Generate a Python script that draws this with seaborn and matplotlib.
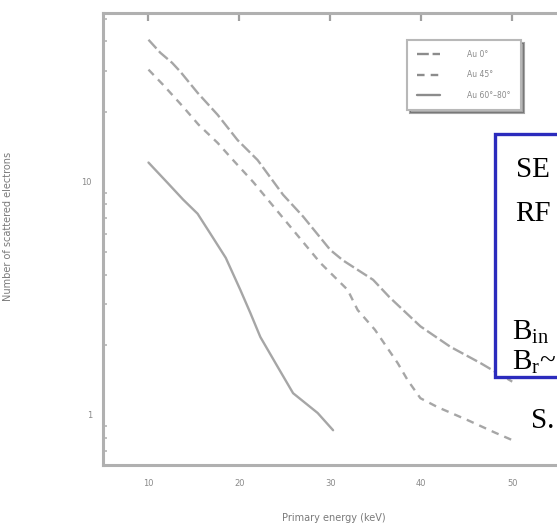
import matplotlib
matplotlib.use("Agg")
import matplotlib.pyplot as plt
import pandas as pd
import seaborn as sns
from matplotlib.patches import Rectangle

# Backscattered electron counts versus primary energy for three incidence cases
energy_a = [10.0, 11.3, 12.6, 13.5, 15.4, 17.6, 19.8, 22.0, 24.8, 27.0, 30.0,
            31.4, 34.7, 36.5, 39.9, 43.2, 46.5, 48.4, 50.0]
count_a = [40.7, 35.8, 32.4, 29.7, 24.1, 19.4, 15.1, 12.4, 8.8, 7.1, 5.1,
           4.6, 3.8, 3.2, 2.4, 1.96, 1.67, 1.51, 1.39]

energy_b = [10.0, 11.6, 13.8, 15.5, 17.6, 19.3, 21.5, 24.8, 28.9, 31.9, 33.0,
            34.9, 37.4, 38.5, 39.9, 41.8, 45.1, 48.1, 50.0]
count_b = [30.3, 26.1, 21.0, 17.6, 14.7, 12.4, 10.0, 7.0, 4.49, 3.44, 2.82,
           2.32, 1.67, 1.41, 1.18, 1.08, 0.95, 0.84, 0.78]

energy_c = [10.0, 12.1, 13.8, 15.4, 16.8, 18.5, 20.1, 21.2, 22.3, 24.2, 25.9,
            28.6, 30.3]
count_c = [12.1, 9.9, 8.4, 7.3, 6.0, 4.72, 3.44, 2.74, 2.16, 1.61, 1.24,
           1.02, 0.86]

series_names = ["Au 0°", "Au 45°", "Au 60°–80°"]
x_ticks = [10, 20, 30, 40, 50]
x_tick_labels = ["10", "20", "30", "40", "50"]
y_ticks = [1, 10]
y_tick_labels = ["1", "10"]

# overlaid annotation panel lines
panel_lines = ["SE", "RF", r"B$_{\mathrm{in}}$", r"B$_{\mathrm{r}}$~"]
credit = "S."

df = pd.concat([
    pd.DataFrame({"energy": energy_a, "count": count_a, "series": series_names[0]}),
    pd.DataFrame({"energy": energy_b, "count": count_b, "series": series_names[1]}),
    pd.DataFrame({"energy": energy_c, "count": count_c, "series": series_names[2]}),
], ignore_index=True)

sns.set_theme(style="white")
plt.rcParams["font.family"] = ["DejaVu Sans"]
plt.rcParams["mathtext.fontset"] = "custom"
plt.rcParams["mathtext.rm"] = "Liberation Serif"
plt.rcParams["mathtext.it"] = "Liberation Serif:italic"

W, H = 557, 525
fig = plt.figure(figsize=(W / 100, H / 100), dpi=100)
fig.patch.set_facecolor("white")

# axes frame runs past the right edge of the figure
left, right, top, bottom = 103, 565, 13, 465
ax = fig.add_axes([left / W, 1 - bottom / H, (right - left) / W, (bottom - top) / H])

line_grey = "#a6a6a6"
sns.lineplot(
    data=df, x="energy", y="count", hue="series", style="series",
    palette={n: line_grey for n in series_names},
    dashes={series_names[0]: (5, 1.6), series_names[1]: (3.2, 2.6), series_names[2]: ""},
    sort=False, estimator=None, linewidth=1.7, ax=ax,
)

ax.set_yscale("log")
ax.set_xlim(5.0, 55.8)
ax.set_ylim(0.61, 53.0)
ax.set_xticks(x_ticks)
ax.set_xticklabels(x_tick_labels)
ax.set_yticks(y_ticks)
ax.set_yticklabels(y_tick_labels)

spine_grey = "#b0b0b0"
for s in ax.spines.values():
    s.set_color(spine_grey)
    s.set_linewidth(2.2)
ax.tick_params(axis="both", which="major", direction="in", length=6, width=1.6,
               color="#a0a0a0", labelsize=6, labelcolor="#8a8a8a",
               top=True, right=True)
ax.tick_params(axis="x", pad=10)
ax.tick_params(axis="y", pad=8)
ax.tick_params(axis="y", which="minor", direction="in", length=3, width=1.2,
               color="#b5b5b5", left=True)
ax.yaxis.set_minor_formatter(matplotlib.ticker.NullFormatter())

ax.set_xlabel("Primary energy (keV)", fontsize=7, color="#7a7a7a")
ax.set_ylabel("Number of scattered electrons", fontsize=7, color="#7a7a7a")
axw, axh = right - left, bottom - top
ax.xaxis.set_label_coords((334 - left) / axw, -(513 - bottom) / axh)
ax.yaxis.set_label_coords(-(left - 13) / axw, (bottom - 226) / axh)

handles, labels = ax.get_legend_handles_labels()
for h in handles:
    h.set_color("#8c8c8c")
leg = ax.legend(handles, labels, loc="upper left",
                bbox_to_anchor=(407 / W, 1 - 40 / H), bbox_transform=fig.transFigure,
                fontsize=5.5, frameon=True, fancybox=False, shadow=True,
                handlelength=3.0, handletextpad=3.6, labelspacing=1.5,
                borderpad=1.3, borderaxespad=0)
leg.get_frame().set_edgecolor("#b8b8b8")
leg.get_frame().set_linewidth(1.5)
for t in leg.get_texts():
    t.set_color("#8a8a8a")

# annotation panel overlaid on the right
fig.patches.append(Rectangle((495 / W, 1 - 377 / H), 0.3, (377 - 134) / H,
                             transform=fig.transFigure, facecolor="white",
                             edgecolor="#2b2bbd", linewidth=2.4, zorder=5))
txt_kw = dict(fontsize=21, family="Liberation Serif", color="black",
              va="baseline", ha="left", zorder=6)
fig.text(516 / W, 1 - 177 / H, panel_lines[0], **txt_kw)
fig.text(515 / W, 1 - 221 / H, panel_lines[1], **txt_kw)
fig.text(512 / W, 1 - 340 / H, panel_lines[2], **txt_kw)
fig.text(512 / W, 1 - 370 / H, panel_lines[3], **txt_kw)
fig.text(531 / W, 1 - 428 / H, credit, **txt_kw)

fig.savefig("out.png", dpi=100, facecolor="white")
